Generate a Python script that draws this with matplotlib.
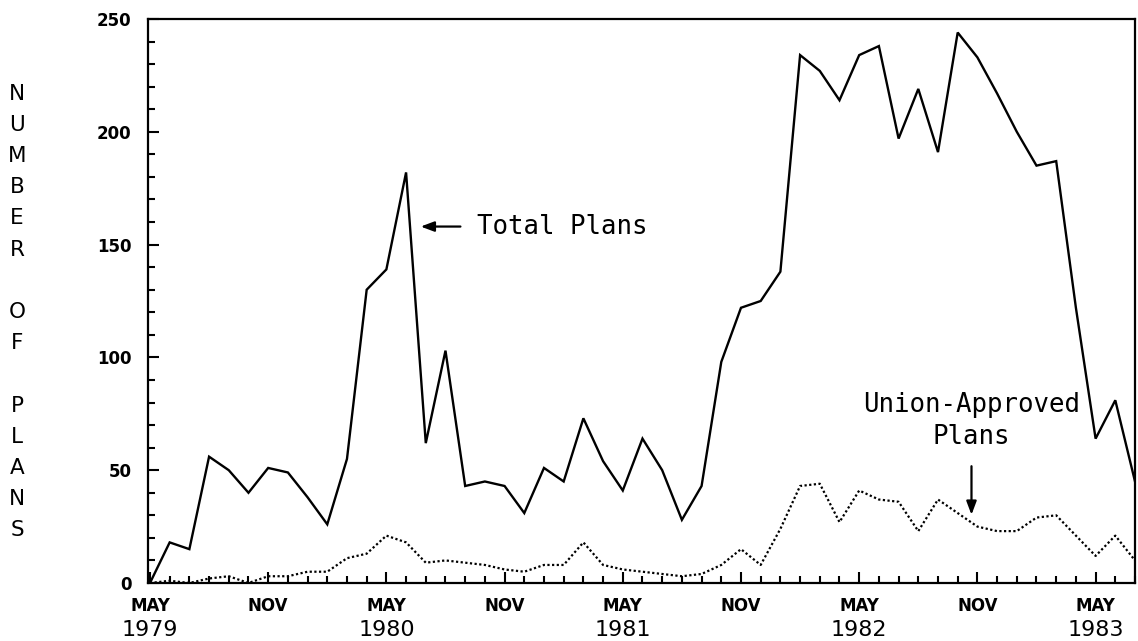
import matplotlib.pyplot as plt
from matplotlib.ticker import FixedLocator, MultipleLocator

# monthly counts, May 1979 .. Jul 1983
months = ['MAY', 'JUN', 'JUL', 'AUG', 'SEP', 'OCT', 'NOV', 'DEC', 'JAN', 'FEB', 'MAR', 'APR'] * 4 + ['MAY', 'JUN', 'JUL']
total_plans = [0, 18, 15, 56, 50, 40, 51, 49, 38, 26, 55, 130, 139, 182, 62, 103, 43, 45, 43, 31,
               51, 45, 73, 54, 41, 64, 50, 28, 43, 98, 122, 125, 138, 234, 227, 214, 234, 238, 197, 219,
               191, 244, 233, 217, 200, 185, 187, 122, 64, 81, 45]
union_plans = [0, 1, 0, 2, 3, 0, 3, 3, 5, 5, 11, 13, 21, 18, 9, 10, 9, 8, 6, 5,
               8, 8, 18, 8, 6, 5, 4, 3, 4, 8, 15, 8, 24, 43, 44, 27, 41, 37, 36, 23,
               37, 31, 25, 23, 23, 29, 30, 21, 12, 21, 10]
years = ['1979', '1980', '1981', '1982', '1983']

x = list(range(len(months)))
major_x = [i for i, m in enumerate(months) if m in ('MAY', 'NOV')]
may_x = [i for i, m in enumerate(months) if m == 'MAY']

fig = plt.figure(figsize=(11.38, 6.41), dpi=100)
ax = fig.add_axes([148 / 1138, 1 - 583 / 641, (1135 - 148) / 1138, (583 - 19) / 641])

ax.plot(x, total_plans, color='black', lw=1.7, solid_joinstyle='miter')
ax.plot(x, union_plans, color='black', lw=1.6, ls=(0, (1, 1.1)))

ax.set_xlim(-0.1, 50)
ax.set_ylim(0, 250)

for s in ax.spines.values():
    s.set_linewidth(1.6)

ax.xaxis.set_major_locator(FixedLocator(major_x))
ax.xaxis.set_minor_locator(MultipleLocator(1))
ax.set_xticklabels([months[i] for i in major_x])
ax.yaxis.set_major_locator(MultipleLocator(50))
ax.yaxis.set_minor_locator(MultipleLocator(10))

ax.tick_params(which='both', direction='in', width=1.5, top=False, right=False)
ax.tick_params(which='major', length=8)
ax.tick_params(which='minor', length=5)
ax.tick_params(axis='x', which='major', pad=10)
ax.tick_params(axis='y', which='major', pad=12)
for lab in ax.get_xticklabels() + ax.get_yticklabels():
    lab.set_fontfamily('DejaVu Sans')
    lab.set_fontweight('bold')
    lab.set_fontsize(12)

for xi, yr in zip(may_x, years):
    ax.text(xi, -0.066, yr, transform=ax.get_xaxis_transform(), ha='center', va='top',
            fontsize=16, fontfamily='DejaVu Sans', clip_on=False)

# stacked y label
fig.text(17 / 1138, 1 - 312 / 641, 'N\nU\nM\nB\nE\nR\n\nO\nF\n\nP\nL\nA\nN\nS',
         ha='center', va='center', fontsize=15.5, linespacing=1.7, fontfamily='DejaVu Sans')

mono = 'DejaVu Sans Mono'
ax.annotate('', xy=(13.6, 158), xytext=(15.9, 158),
            arrowprops=dict(arrowstyle='-|>,head_length=0.8,head_width=0.3', color='black', lw=1.6))
ax.text(16.6, 158, 'Total Plans', ha='left', va='center', fontsize=18.5, fontfamily=mono)

ax.text(41.7, 72, 'Union-Approved\nPlans', ha='center', va='center', fontsize=18.5,
        fontfamily=mono, multialignment='center', linespacing=1.3)
ax.annotate('', xy=(41.7, 29), xytext=(41.7, 53),
            arrowprops=dict(arrowstyle='-|>,head_length=0.8,head_width=0.3', color='black', lw=1.6))

fig.savefig('out.png', dpi=100)
